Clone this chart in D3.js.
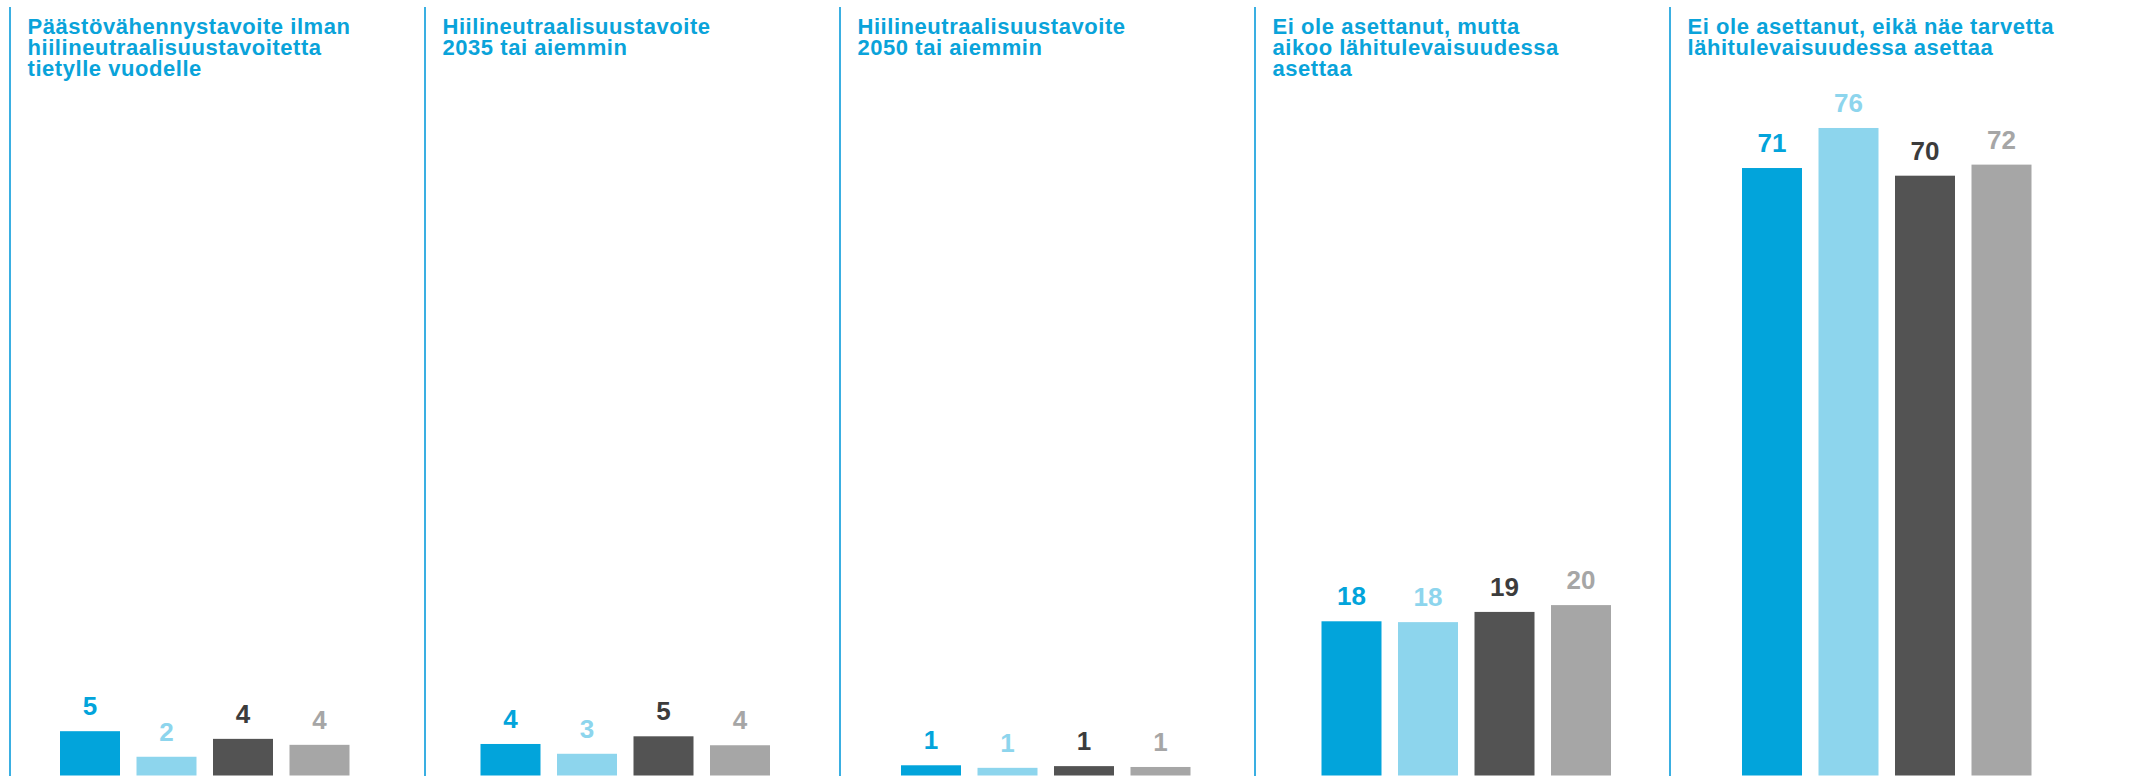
<!DOCTYPE html>
<html>
<head>
<meta charset="utf-8">
<script src="https://cdn.jsdelivr.net/npm/d3@7"></script>
<style>
  body { margin: 0; background: #fff; }
  text { font-family: "Liberation Sans", Arial, sans-serif; font-weight: bold; }
</style>
</head>
<body>
<div id="container"></div>
<script>
/* DATA */
const categories = [
  "Päästövähennystavoite ilman hiilineutraalisuustavoitetta tietylle vuodelle",
  "Hiilineutraalisuustavoite 2035 tai aiemmin",
  "Hiilineutraalisuustavoite 2050 tai aiemmin",
  "Ei ole asettanut, mutta aikoo lähitulevaisuudessa asettaa",
  "Ei ole asettanut, eikä näe tarvetta lähitulevaisuudessa asettaa"
]
const titleLines = [
  ["Päästövähennystavoite ilman", "hiilineutraalisuustavoitetta", "tietylle vuodelle"],
  ["Hiilineutraalisuustavoite", "2035 tai aiemmin"],
  ["Hiilineutraalisuustavoite", "2050 tai aiemmin"],
  ["Ei ole asettanut, mutta", "aikoo lähitulevaisuudessa", "asettaa"],
  ["Ei ole asettanut, eikä näe tarvetta", "lähitulevaisuudessa asettaa"]
]
const series = ["s1", "s2", "s3", "s4"]
const series1 = [5.2, 3.7, 1.2, 18.1, 71.3]
const series2 = [2.2, 2.55, 0.9, 18.0, 76.0]
const series3 = [4.3, 4.6, 1.1, 19.2, 70.4]
const series4 = [3.6, 3.55, 1.0, 20.0, 71.7]

const barColors = ["#02a4db", "#8dd5ed", "#535353", "#a6a6a6"]
const labelColors = ["#02a4db", "#8dd5ed", "#3c3c3c", "#a6a6a6"]

const width = 2131
const height = 776

const data = categories.map((c, i) => ({
  cat: c,
  values: [series1[i], series2[i], series3[i], series4[i]]
}))

/* SVG */
const svg = d3.select("#container")
  .append("svg")
    .attr("width", width)
    .attr("height", height)

/* SCALES */
const xGroup = d3.scaleBand()
  .domain(categories)
  .range([60, 60 + 5 * 420.5])

const xBar = d3.scaleBand()
  .domain(series)
  .range([0, 289.5])
  .paddingInner(16.5 / 76.5)

const xPanel = d3.scaleBand()
  .domain(categories)
  .range([10, 10 + 5 * 415])

const yScale = d3.scaleLinear()
  .domain([0, 80])
  .range([775.5, 775.5 - 80 * 8.52])

/* PANEL LINES + TITLES */
svg.selectAll(".divider")
  .data(categories)
  .join("line")
    .attr("class", "divider")
    .attr("x1", d => xPanel(d))
    .attr("x2", d => xPanel(d))
    .attr("y1", 7)
    .attr("y2", height)
    .attr("stroke", "#3aafe2")
    .attr("stroke-width", 2)

const titles = svg.selectAll(".title")
  .data(categories)
  .join("text")
    .attr("class", "title")
    .attr("x", d => xPanel(d) + 17.5)
    .attr("y", 34.3)
    .attr("fill", "#0aa3da")
    .style("font-size", "22px")
    .style("letter-spacing", "0.55px")

titles.selectAll("tspan")
  .data((d, i) => titleLines[i])
  .join("tspan")
    .attr("x", function() { return d3.select(this.parentNode).attr("x") })
    .attr("dy", (d, i) => i === 0 ? 0 : 20.6)
    .text(d => d)

/* BARS */
const groups = svg.selectAll(".group")
  .data(data)
  .join("g")
    .attr("class", "group")
    .attr("transform", d => "translate(" + xGroup(d.cat) + ",0)")

groups.selectAll("rect")
  .data(d => d.values.map((v, j) => ({key: series[j], value: v, j: j})))
  .join("rect")
    .attr("x", d => xBar(d.key))
    .attr("y", d => yScale(d.value))
    .attr("width", xBar.bandwidth())
    .attr("height", d => yScale(0) - yScale(d.value))
    .attr("fill", d => barColors[d.j])

groups.selectAll(".label")
  .data(d => d.values.map((v, j) => ({key: series[j], value: v, j: j})))
  .join("text")
    .attr("class", "label")
    .attr("x", d => xBar(d.key) + xBar.bandwidth() / 2)
    .attr("y", d => yScale(d.value) - 16)
    .attr("text-anchor", "middle")
    .attr("fill", d => labelColors[d.j])
    .style("font-size", "26px")
    .text(d => d3.format(".0f")(d.value))
</script>
</body>
</html>
